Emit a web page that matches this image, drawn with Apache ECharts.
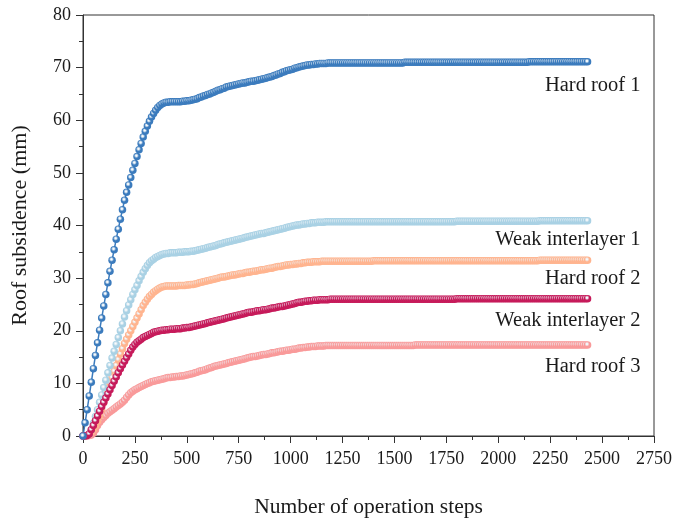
<!DOCTYPE html>
<html>
<head>
<meta charset="utf-8">
<script src="https://cdn.jsdelivr.net/npm/echarts@6/dist/echarts.min.js"></script>
<style>
  html, body { margin: 0; padding: 0; background: #fff; }
  #chart { width: 675px; height: 525px; }
</style>
</head>
<body>
<div id="chart"></div>
<script>
// Roof subsidence recorded every 10 operation steps, from step 0 to step 2430.
const STEP = 10;

const hardRoof1 = [
  0, 2.5, 5.0, 7.6, 10.2, 12.8, 15.3, 17.7, 20.1, 22.4,
  24.7, 26.9, 29.1, 31.3, 33.4, 35.4, 37.4, 39.3, 41.2, 43.0,
  44.8, 46.3, 47.7, 49.1, 50.5, 51.8, 53.1, 54.4, 55.6, 56.8,
  57.9, 58.9, 59.8, 60.6, 61.3, 61.9, 62.4, 62.8, 63.1, 63.3,
  63.4, 63.4, 63.5, 63.5, 63.5, 63.5, 63.5, 63.5, 63.6, 63.6,
  63.7, 63.7, 63.8, 63.9, 64.0, 64.1, 64.3, 64.4, 64.6, 64.7,
  64.9, 65.0, 65.2, 65.3, 65.5, 65.7, 65.8, 66.0, 66.1, 66.3,
  66.4, 66.5, 66.6, 66.7, 66.8, 66.9, 67.0, 67.1, 67.1, 67.2,
  67.3, 67.4, 67.4, 67.5, 67.6, 67.7, 67.8, 67.9, 68.0, 68.1,
  68.2, 68.3, 68.5, 68.6, 68.8, 68.9, 69.1, 69.2, 69.4, 69.5,
  69.6, 69.7, 69.9, 70.0, 70.1, 70.2, 70.3, 70.4, 70.5, 70.5,
  70.6, 70.6, 70.7, 70.7, 70.8, 70.8, 70.8, 70.8, 70.9, 70.9,
  70.9, 70.9, 70.9, 70.9, 70.9, 70.9, 70.9, 70.9, 70.9, 70.9,
  70.9, 70.9, 70.9, 70.9, 70.9, 70.9, 70.9, 70.9, 70.9, 70.9,
  70.9, 70.9, 70.9, 70.9, 70.9, 70.9, 70.9, 70.9, 70.9, 70.9,
  70.9, 70.9, 70.9, 70.9, 70.9, 71.0, 71.0, 71.0, 71.0, 71.0,
  71.0, 71.0, 71.0, 71.0, 71.0, 71.0, 71.0, 71.0, 71.0, 71.0,
  71.0, 71.0, 71.0, 71.0, 71.0, 71.0, 71.0, 71.0, 71.0, 71.0,
  71.0, 71.0, 71.0, 71.0, 71.0, 71.0, 71.0, 71.0, 71.0, 71.0,
  71.0, 71.0, 71.0, 71.0, 71.0, 71.0, 71.0, 71.0, 71.0, 71.0,
  71.0, 71.0, 71.0, 71.0, 71.0, 71.0, 71.0, 71.0, 71.0, 71.0,
  71.0, 71.0, 71.0, 71.0, 71.0, 71.1, 71.1, 71.1, 71.1, 71.1,
  71.1, 71.1, 71.1, 71.1, 71.1, 71.1, 71.1, 71.1, 71.1, 71.1,
  71.1, 71.1, 71.1, 71.1, 71.1, 71.1, 71.1, 71.1, 71.1, 71.1,
  71.1, 71.1, 71.1, 71.1
];

const weakInterlayer1 = [
  0, 0, 0.1, 0.4, 1.2, 2.4, 3.7, 5.0, 6.4, 7.8,
  9.2, 10.6, 12.0, 13.4, 14.8, 16.1, 17.4, 18.7, 20.0, 21.3,
  22.6, 23.8, 24.9, 25.9, 26.9, 27.8, 28.6, 29.5, 30.3, 31.1,
  31.8, 32.4, 32.9, 33.3, 33.6, 33.9, 34.1, 34.3, 34.5, 34.6,
  34.7, 34.7, 34.8, 34.8, 34.8, 34.8, 34.9, 34.9, 34.9, 35.0,
  35.0, 35.0, 35.1, 35.1, 35.2, 35.3, 35.4, 35.5, 35.6, 35.7,
  35.8, 35.9, 36.0, 36.1, 36.2, 36.4, 36.5, 36.6, 36.7, 36.8,
  36.9, 37.0, 37.1, 37.2, 37.3, 37.4, 37.5, 37.6, 37.7, 37.8,
  37.9, 38.0, 38.1, 38.2, 38.3, 38.4, 38.5, 38.5, 38.6, 38.7,
  38.8, 38.9, 39.0, 39.1, 39.2, 39.3, 39.4, 39.5, 39.6, 39.7,
  39.8, 39.9, 40.0, 40.1, 40.1, 40.2, 40.3, 40.3, 40.4, 40.4,
  40.5, 40.5, 40.5, 40.6, 40.6, 40.6, 40.6, 40.7, 40.7, 40.7,
  40.7, 40.7, 40.7, 40.7, 40.7, 40.7, 40.7, 40.7, 40.7, 40.7,
  40.7, 40.7, 40.7, 40.7, 40.7, 40.7, 40.7, 40.7, 40.7, 40.7,
  40.7, 40.7, 40.7, 40.7, 40.7, 40.7, 40.7, 40.7, 40.7, 40.7,
  40.7, 40.7, 40.7, 40.7, 40.7, 40.7, 40.7, 40.7, 40.7, 40.7,
  40.7, 40.7, 40.7, 40.7, 40.7, 40.7, 40.7, 40.7, 40.7, 40.7,
  40.7, 40.7, 40.7, 40.7, 40.7, 40.7, 40.7, 40.7, 40.7, 40.7,
  40.8, 40.8, 40.8, 40.8, 40.8, 40.8, 40.8, 40.8, 40.8, 40.8,
  40.8, 40.8, 40.8, 40.8, 40.8, 40.8, 40.8, 40.8, 40.8, 40.8,
  40.8, 40.8, 40.8, 40.8, 40.8, 40.8, 40.8, 40.8, 40.8, 40.8,
  40.8, 40.8, 40.8, 40.8, 40.8, 40.8, 40.8, 40.8, 40.8, 40.8,
  40.9, 40.9, 40.9, 40.9, 40.9, 40.9, 40.9, 40.9, 40.9, 40.9,
  40.9, 40.9, 40.9, 40.9, 40.9, 40.9, 40.9, 40.9, 40.9, 40.9,
  40.9, 40.9, 40.9, 40.9
];

const hardRoof2 = [
  0, 0, 0.1, 0.3, 0.7, 1.3, 2.0, 2.8, 3.8, 5.0,
  6.3, 7.5, 8.7, 9.9, 11.1, 12.3, 13.4, 14.5, 15.6, 16.6,
  17.6, 18.4, 19.2, 20.0, 20.8, 21.6, 22.4, 23.2, 24.0, 24.8,
  25.4, 26.0, 26.5, 26.9, 27.3, 27.6, 27.9, 28.1, 28.3, 28.4,
  28.5, 28.5, 28.5, 28.5, 28.5, 28.5, 28.6, 28.6, 28.6, 28.6,
  28.7, 28.7, 28.8, 28.8, 28.9, 29.0, 29.1, 29.2, 29.3, 29.4,
  29.5, 29.6, 29.7, 29.8, 29.9, 30.0, 30.1, 30.2, 30.2, 30.3,
  30.4, 30.5, 30.6, 30.6, 30.7, 30.8, 30.9, 30.9, 31.0, 31.1,
  31.1, 31.2, 31.3, 31.3, 31.4, 31.5, 31.6, 31.6, 31.7, 31.8,
  31.9, 31.9, 32.0, 32.1, 32.2, 32.2, 32.3, 32.4, 32.5, 32.5,
  32.6, 32.6, 32.7, 32.7, 32.8, 32.8, 32.9, 32.9, 33.0, 33.0,
  33.0, 33.1, 33.1, 33.1, 33.1, 33.2, 33.2, 33.2, 33.2, 33.2,
  33.2, 33.2, 33.2, 33.2, 33.2, 33.2, 33.2, 33.2, 33.2, 33.2,
  33.2, 33.2, 33.2, 33.2, 33.2, 33.2, 33.2, 33.2, 33.2, 33.2,
  33.3, 33.3, 33.3, 33.3, 33.3, 33.3, 33.3, 33.3, 33.3, 33.3,
  33.3, 33.3, 33.3, 33.3, 33.3, 33.3, 33.3, 33.3, 33.3, 33.3,
  33.3, 33.3, 33.3, 33.3, 33.3, 33.3, 33.3, 33.3, 33.3, 33.3,
  33.3, 33.3, 33.3, 33.3, 33.3, 33.3, 33.3, 33.3, 33.3, 33.3,
  33.3, 33.3, 33.3, 33.3, 33.3, 33.3, 33.3, 33.3, 33.3, 33.3,
  33.3, 33.3, 33.3, 33.3, 33.3, 33.3, 33.3, 33.3, 33.3, 33.3,
  33.3, 33.3, 33.3, 33.3, 33.3, 33.3, 33.3, 33.3, 33.3, 33.3,
  33.3, 33.3, 33.3, 33.3, 33.3, 33.3, 33.3, 33.3, 33.3, 33.3,
  33.4, 33.4, 33.4, 33.4, 33.4, 33.4, 33.4, 33.4, 33.4, 33.4,
  33.4, 33.4, 33.4, 33.4, 33.4, 33.4, 33.4, 33.4, 33.4, 33.4,
  33.4, 33.4, 33.4, 33.4
];

const weakInterlayer2 = [
  0, 0, 0.1, 0.4, 1.2, 2.0, 2.9, 3.8, 4.7, 5.6,
  6.4, 7.2, 8.0, 8.8, 9.6, 10.4, 11.2, 12.0, 12.8, 13.5,
  14.2, 14.9, 15.6, 16.3, 16.9, 17.4, 17.8, 18.1, 18.4, 18.7,
  18.9, 19.1, 19.3, 19.5, 19.7, 19.8, 19.9, 20.0, 20.1, 20.1,
  20.2, 20.2, 20.3, 20.3, 20.3, 20.4, 20.4, 20.4, 20.5, 20.5,
  20.6, 20.6, 20.7, 20.8, 20.9, 21.0, 21.1, 21.2, 21.3, 21.4,
  21.5, 21.6, 21.7, 21.8, 21.9, 22.0, 22.1, 22.2, 22.3, 22.4,
  22.5, 22.6, 22.7, 22.8, 22.9, 23.0, 23.1, 23.2, 23.3, 23.4,
  23.5, 23.5, 23.6, 23.7, 23.8, 23.8, 23.9, 24.0, 24.0, 24.1,
  24.2, 24.3, 24.3, 24.4, 24.5, 24.6, 24.6, 24.7, 24.8, 24.9,
  25.0, 25.1, 25.2, 25.3, 25.4, 25.4, 25.5, 25.6, 25.6, 25.7,
  25.7, 25.8, 25.8, 25.8, 25.9, 25.9, 25.9, 25.9, 25.9, 26.0,
  26.0, 26.0, 26.0, 26.0, 26.0, 26.0, 26.0, 26.0, 26.0, 26.0,
  26.0, 26.0, 26.0, 26.0, 26.0, 26.0, 26.0, 26.0, 26.0, 26.0,
  26.0, 26.0, 26.0, 26.0, 26.0, 26.0, 26.0, 26.0, 26.0, 26.0,
  26.0, 26.0, 26.0, 26.0, 26.0, 26.0, 26.0, 26.0, 26.0, 26.0,
  26.0, 26.0, 26.0, 26.0, 26.0, 26.0, 26.0, 26.0, 26.0, 26.0,
  26.0, 26.0, 26.0, 26.0, 26.0, 26.0, 26.0, 26.0, 26.0, 26.0,
  26.1, 26.1, 26.1, 26.1, 26.1, 26.1, 26.1, 26.1, 26.1, 26.1,
  26.1, 26.1, 26.1, 26.1, 26.1, 26.1, 26.1, 26.1, 26.1, 26.1,
  26.1, 26.1, 26.1, 26.1, 26.1, 26.1, 26.1, 26.1, 26.1, 26.1,
  26.1, 26.1, 26.1, 26.1, 26.1, 26.1, 26.1, 26.1, 26.1, 26.1,
  26.1, 26.1, 26.1, 26.1, 26.1, 26.1, 26.1, 26.1, 26.1, 26.1,
  26.1, 26.1, 26.1, 26.1, 26.1, 26.1, 26.1, 26.1, 26.1, 26.1,
  26.1, 26.1, 26.1, 26.1
];

const hardRoof3 = [
  0, 0, 0, 0.1, 0.2, 0.5, 1.2, 2.0, 2.6, 3.1,
  3.5, 3.9, 4.3, 4.6, 4.9, 5.2, 5.5, 5.8, 6.1, 6.4,
  6.8, 7.3, 7.8, 8.2, 8.5, 8.8, 9.0, 9.2, 9.4, 9.6,
  9.8, 10.0, 10.1, 10.3, 10.4, 10.5, 10.6, 10.7, 10.8, 10.9,
  11.0, 11.1, 11.1, 11.2, 11.2, 11.3, 11.3, 11.4, 11.4, 11.5,
  11.6, 11.7, 11.8, 11.9, 12.0, 12.1, 12.3, 12.4, 12.5, 12.6,
  12.8, 12.9, 13.0, 13.2, 13.3, 13.4, 13.5, 13.6, 13.7, 13.8,
  13.9, 14.0, 14.1, 14.2, 14.3, 14.4, 14.5, 14.6, 14.7, 14.8,
  14.9, 15.0, 15.1, 15.1, 15.2, 15.3, 15.4, 15.5, 15.5, 15.6,
  15.7, 15.8, 15.8, 15.9, 16.0, 16.1, 16.1, 16.2, 16.3, 16.3,
  16.4, 16.5, 16.5, 16.6, 16.7, 16.7, 16.8, 16.8, 16.9, 16.9,
  17.0, 17.0, 17.0, 17.1, 17.1, 17.1, 17.1, 17.2, 17.2, 17.2,
  17.2, 17.2, 17.2, 17.2, 17.2, 17.2, 17.2, 17.2, 17.2, 17.2,
  17.2, 17.2, 17.2, 17.2, 17.2, 17.2, 17.2, 17.2, 17.2, 17.2,
  17.2, 17.2, 17.2, 17.2, 17.2, 17.2, 17.2, 17.2, 17.2, 17.2,
  17.2, 17.2, 17.2, 17.2, 17.2, 17.2, 17.2, 17.2, 17.2, 17.2,
  17.3, 17.3, 17.3, 17.3, 17.3, 17.3, 17.3, 17.3, 17.3, 17.3,
  17.3, 17.3, 17.3, 17.3, 17.3, 17.3, 17.3, 17.3, 17.3, 17.3,
  17.3, 17.3, 17.3, 17.3, 17.3, 17.3, 17.3, 17.3, 17.3, 17.3,
  17.3, 17.3, 17.3, 17.3, 17.3, 17.3, 17.3, 17.3, 17.3, 17.3,
  17.3, 17.3, 17.3, 17.3, 17.3, 17.3, 17.3, 17.3, 17.3, 17.3,
  17.3, 17.3, 17.3, 17.3, 17.3, 17.3, 17.3, 17.3, 17.3, 17.3,
  17.3, 17.3, 17.3, 17.3, 17.3, 17.3, 17.3, 17.3, 17.3, 17.3,
  17.3, 17.3, 17.3, 17.3, 17.3, 17.3, 17.3, 17.3, 17.3, 17.3,
  17.3, 17.3, 17.3, 17.3
];

const xTicks = [0, 250, 500, 750, 1000, 1250, 1500, 1750, 2000, 2250, 2500, 2750];
const yTicks = [0, 10, 20, 30, 40, 50, 60, 70, 80];

const FONT = '"Liberation Serif", "DejaVu Serif", serif';
const TEXT = '#1a1a1a';
const AXIS = '#333';

const chart = echarts.init(document.getElementById('chart'), null, { renderer: 'canvas' });

// Bead-like marker: small light highlight on a solid body of the series colour.
function bead(color) {
  return new echarts.graphic.RadialGradient(0.42, 0.38, 0.6, [
    { offset: 0, color: '#ffffff' },
    { offset: 0.18, color: '#eef4f8' },
    { offset: 0.55, color: color },
    { offset: 1, color: color }
  ]);
}

function layer(name, values, color, labelDy) {
  return {
    name: name,
    type: 'line',
    data: values.map((v, i) => [i * STEP, v]),
    symbol: 'circle',
    symbolSize: 7.5,
    showAllSymbol: true,
    smooth: false,
    lineStyle: { color: color, width: 1.5 },
    itemStyle: { color: bead(color), borderWidth: 0 },
    endLabel: {
      show: true,
      formatter: name,
      align: 'right',
      verticalAlign: 'middle',
      offset: [45, labelDy],
      fontFamily: FONT,
      fontSize: 20.5,
      color: TEXT
    },
    emphasis: { disabled: true },
    z: 2
  };
}

chart.setOption({
  animation: false,
  backgroundColor: '#fff',
  grid: {
    left: 83, right: 20, top: 15, bottom: 89,
    show: true, borderColor: AXIS, borderWidth: 1, backgroundColor: 'transparent'
  },
  xAxis: {
    type: 'value',
    min: xTicks[0], max: xTicks[xTicks.length - 1], interval: 250,
    name: 'Number of operation steps',
    nameLocation: 'middle', nameGap: 60,
    nameTextStyle: { fontFamily: FONT, fontSize: 21.5, color: TEXT },
    axisLine: { show: true, onZero: false, lineStyle: { color: AXIS, width: 1 } },
    axisTick: { show: true, inside: false, length: 7, lineStyle: { color: AXIS } },
    minorTick: { show: true, splitNumber: 2, length: 4, lineStyle: { color: AXIS } },
    splitLine: { show: false },
    axisLabel: { margin: 14, fontFamily: FONT, fontSize: 18, color: TEXT,
      formatter: v => xTicks.includes(v) ? String(v) : '' }
  },
  yAxis: {
    type: 'value',
    min: yTicks[0], max: yTicks[yTicks.length - 1], interval: 10,
    name: 'Roof subsidence (mm)',
    nameLocation: 'middle', nameGap: 52, nameRotate: 90,
    nameTextStyle: { fontFamily: FONT, fontSize: 22, color: TEXT },
    axisLine: { show: true, onZero: false, lineStyle: { color: AXIS, width: 1 } },
    axisTick: { show: true, inside: false, length: 7, lineStyle: { color: AXIS } },
    minorTick: { show: true, splitNumber: 2, length: 4, lineStyle: { color: AXIS } },
    splitLine: { show: false },
    axisLabel: { margin: 12, fontFamily: FONT, fontSize: 18, color: TEXT,
      formatter: v => yTicks.includes(v) ? String(v) : '' }
  },
  series: [
    layer('Hard roof 3', hardRoof3, '#f99a9a', 22),
    layer('Hard roof 2', hardRoof2, '#ffb48f', 18),
    layer('Weak interlayer 1', weakInterlayer1, '#a9d1e4', 19),
    layer('Weak interlayer 2', weakInterlayer2, '#c61a5a', 22),
    layer('Hard roof 1', hardRoof1, '#3b7bbd', 24)
  ]
});
</script>
</body>
</html>
